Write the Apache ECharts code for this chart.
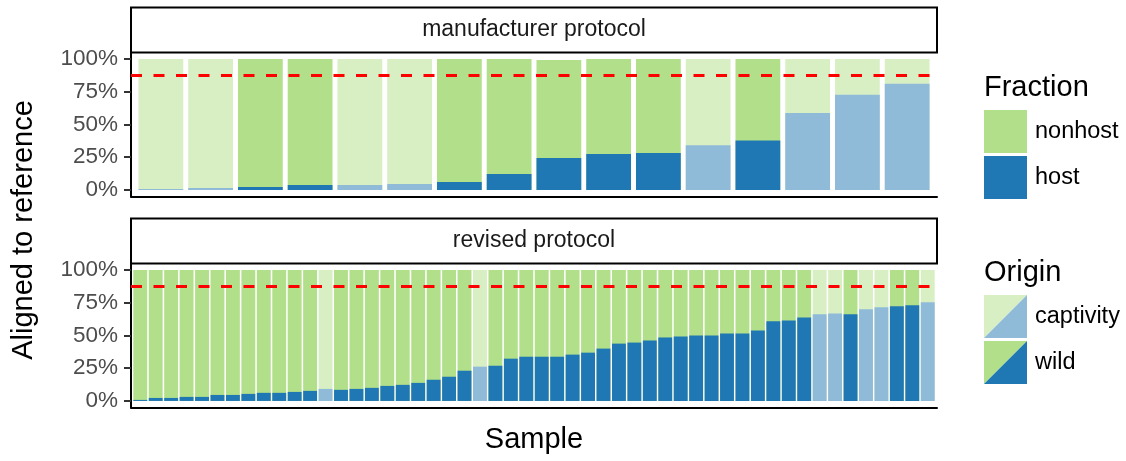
<!DOCTYPE html>
<html>
<head>
<meta charset="utf-8">
<script src="https://cdn.jsdelivr.net/npm/echarts@6/dist/echarts.min.js"></script>
<style>
html,body{margin:0;padding:0;background:#fff;}
#chart{width:1126px;height:461px;}
</style>
</head>
<body>
<div id="chart"></div>
<script>
// ---- data (percent aligned to reference) ----
const panelTitles = ['manufacturer protocol', 'revised protocol'];
const yTicks = [0, 25, 50, 75, 100];
const threshold = 87.8;

const manufHost    = [0.8, 1.5, 2.3, 3.8, 3.8, 4.6, 6.1, 12.2, 24.4, 27.5, 28.2, 34.1, 37.7, 58.8, 72.8, 81.2];
const manufNonhost = [99.2, 98.5, 97.7, 96.2, 96.2, 95.4, 93.9, 87.8, 74.8, 72.5, 71.8, 65.9, 62.3, 41.2, 27.2, 18.8];
const manufOrigin  = ['captivity','captivity','wild','wild','captivity','captivity','wild','wild','wild','wild','wild','captivity','wild','captivity','captivity','captivity'];

const revHost    = [0.8, 2.3, 2.3, 3.1, 3.1, 4.6, 4.6, 5.4, 6.2, 6.2, 6.9, 7.7, 9.2, 8.5, 9.2, 10.0, 11.5, 12.3, 13.8, 16.2, 18.5, 23.1, 26.2, 26.9, 32.3, 33.8, 33.8, 33.8, 35.4, 36.9, 40.0, 43.8, 44.6, 46.2, 48.5, 49.2, 50.0, 50.0, 51.5, 51.5, 53.8, 60.8, 61.5, 63.8, 66.2, 66.9, 66.2, 70.0, 71.5, 72.3, 73.1, 75.4];
const revNonhost = [99.2, 97.7, 97.7, 96.9, 96.9, 95.4, 95.4, 94.6, 93.8, 93.8, 93.1, 92.3, 90.8, 91.5, 90.8, 90.0, 88.5, 87.7, 86.2, 83.8, 81.5, 76.9, 73.8, 73.1, 67.7, 66.2, 66.2, 66.2, 64.6, 63.1, 60.0, 56.2, 55.4, 53.8, 51.5, 50.8, 50.0, 50.0, 48.5, 48.5, 46.2, 39.2, 38.5, 36.2, 33.8, 33.1, 33.8, 30.0, 28.5, 27.7, 26.9, 24.6];
const revOrigin  = ['wild','wild','wild','wild','wild','wild','wild','wild','wild','wild','wild','wild','captivity','wild','wild','wild','wild','wild','wild','wild','wild','wild','captivity','wild','wild','wild','wild','wild','wild','wild','wild','wild','wild','wild','wild','wild','wild','wild','wild','wild','wild','wild','wild','wild','captivity','captivity','wild','captivity','captivity','wild','wild','captivity'];

const fractionLabels = ['nonhost', 'host'];
const originLabels = ['captivity', 'wild'];

// ---- styling ----
const colors = {
  wild:      { host: '#1f78b4', nonhost: '#b2df8a' },
  captivity: { host: '#8fbbd9', nonhost: '#d8efc4' }
};
const FONT = '"Liberation Sans", Arial, Helvetica, sans-serif';
const PL = 131, PR = 937;

function yAxisDef(gi) {
  return {
    gridIndex: gi, type: 'value', min: -5, max: 105,
    axisLine: { show: true, onZero: false, lineStyle: { color: '#000', width: 2 } },
    axisTick: { show: true, length: 7, customValues: yTicks, lineStyle: { color: '#333', width: 2 } },
    axisLabel: { show: true, customValues: yTicks, formatter: '{value}%', fontSize: 22.5,
                 color: '#4d4d4d', margin: 13, fontFamily: FONT },
    splitLine: { show: false }
  };
}
function xAxisDef(gi, n) {
  return {
    gridIndex: gi, type: 'value', min: 0.4, max: n + 0.6,
    axisLine: { show: true, onZero: false, lineStyle: { color: '#000', width: 2 } },
    axisTick: { show: false }, axisLabel: { show: false }, splitLine: { show: false }
  };
}
// stacked bars drawn as overlay: nonhost segment sits on top of host segment
function panelSeries(gi, host, nonhost, origin) {
  const top = {
    type: 'bar', xAxisIndex: gi, yAxisIndex: gi, barWidth: '90%', barGap: '-100%',
    silent: true, animation: false, z: 2,
    data: nonhost.map((v, i) => ({ value: [i + 1, host[i] + v], itemStyle: { color: colors[origin[i]].nonhost } })),
    markLine: {
      silent: true, symbol: 'none', animation: false, z: 5,
      label: { show: false },
      lineStyle: { color: '#ff0000', type: [11, 11.5], width: 3 },
      data: [{ yAxis: threshold }]
    }
  };
  const bottom = {
    type: 'bar', xAxisIndex: gi, yAxisIndex: gi, barWidth: '90%', barGap: '-100%',
    silent: true, animation: false, z: 3,
    data: host.map((v, i) => ({ value: [i + 1, v], itemStyle: { color: colors[origin[i]].host } }))
  };
  return [top, bottom];
}

const graphics = [];
// facet strips
[[7.5, 45], [218.5, 45]].forEach((r, k) => {
  graphics.push({ type: 'rect', shape: { x: PL, y: r[0], width: PR - PL, height: r[1] },
    style: { fill: '#fff', stroke: '#000', lineWidth: 2 }, z: 10 });
  graphics.push({ type: 'text', x: (PL + PR) / 2, y: r[0] + r[1] / 2, z: 11,
    style: { text: panelTitles[k], fill: '#1a1a1a', font: '23px ' + FONT, align: 'center', verticalAlign: 'middle' } });
});
// axis titles
graphics.push({ type: 'text', x: 24, y: 230, rotation: Math.PI / 2,
  style: { text: 'Aligned to reference', fill: '#000', font: '29px ' + FONT, align: 'center', verticalAlign: 'middle' } });
graphics.push({ type: 'text', x: (PL + PR) / 2, y: 440,
  style: { text: 'Sample', fill: '#000', font: '29px ' + FONT, align: 'center', verticalAlign: 'middle' } });

// legend: Fraction
const LX = 984, KS = 43;
graphics.push({ type: 'text', x: LX, y: 88, style: { text: 'Fraction', fill: '#000', font: '29px ' + FONT, verticalAlign: 'middle' } });
const fracCols = [colors.wild.nonhost, colors.wild.host];
fractionLabels.forEach((lab, i) => {
  const y0 = 110 + i * 46;
  graphics.push({ type: 'rect', shape: { x: LX, y: y0, width: KS, height: KS }, style: { fill: fracCols[i] } });
  graphics.push({ type: 'text', x: 1035, y: y0 + KS / 2, style: { text: lab, fill: '#000', font: '23.5px ' + FONT, verticalAlign: 'middle' } });
});
// legend: Origin
graphics.push({ type: 'text', x: LX, y: 273, style: { text: 'Origin', fill: '#000', font: '29px ' + FONT, verticalAlign: 'middle' } });
originLabels.forEach((lab, i) => {
  const y0 = 295 + i * 46;
  const c = colors[lab];
  graphics.push({ type: 'polygon', shape: { points: [[LX, y0], [LX + KS, y0], [LX, y0 + KS]] }, style: { fill: c.nonhost } });
  graphics.push({ type: 'polygon', shape: { points: [[LX + KS, y0], [LX + KS, y0 + KS], [LX, y0 + KS]] }, style: { fill: c.host } });
  graphics.push({ type: 'text', x: 1035, y: y0 + KS / 2, style: { text: lab, fill: '#000', font: '23.5px ' + FONT, verticalAlign: 'middle' } });
});

const option = {
  animation: false,
  backgroundColor: '#fff',
  grid: [
    { left: PL, width: PR - PL, top: 52.5, height: 144, outerBoundsMode: 'none', containLabel: false },
    { left: PL, width: PR - PL, top: 263.5, height: 144, outerBoundsMode: 'none', containLabel: false }
  ],
  xAxis: [xAxisDef(0, manufHost.length), xAxisDef(1, revHost.length)],
  yAxis: [yAxisDef(0), yAxisDef(1)],
  series: [].concat(
    panelSeries(0, manufHost, manufNonhost, manufOrigin),
    panelSeries(1, revHost, revNonhost, revOrigin)
  ),
  graphic: graphics
};

const chart = echarts.init(document.getElementById('chart'), null, { renderer: 'canvas' });
chart.setOption(option);
</script>
</body>
</html>
